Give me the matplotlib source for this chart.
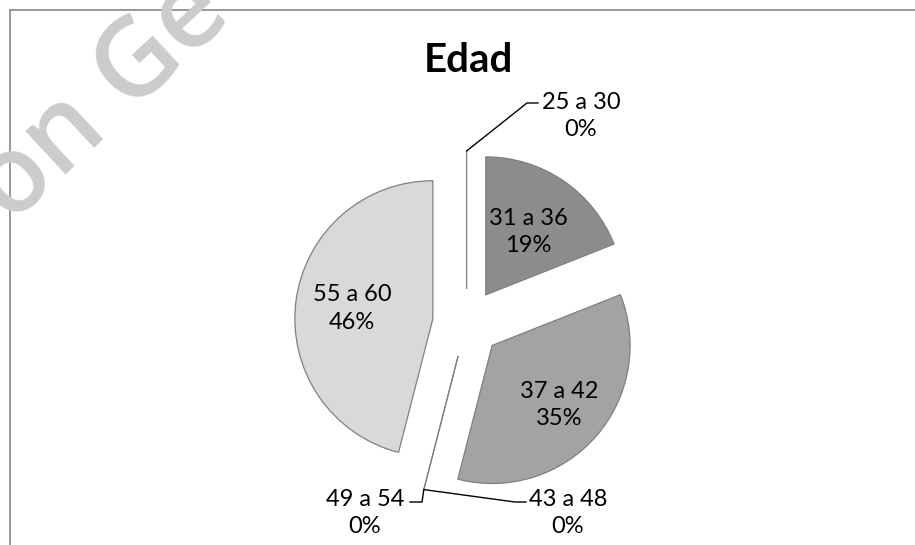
import numpy as np
import matplotlib
matplotlib.use("Agg")
import matplotlib.pyplot as plt
from matplotlib.lines import Line2D

# Age distribution (percent of respondents)
categories = ["25 a 30", "31 a 36", "37 a 42", "43 a 48", "49 a 54", "55 a 60"]
values = [0, 19, 35, 0, 0, 46]
colors = ["#8c8c8c", "#8c8c8c", "#a3a3a3", "#bfbfbf", "#bfbfbf", "#d9d9d9"]
title = "Edad"

W, H = 915, 545
FONT = ["Lato", "DejaVu Sans"]
LABEL_SIZE = 17

fig = plt.figure(figsize=(W / 100, H / 100), dpi=100)
ax = fig.add_axes([0, 0, 1, 1])

def py(y):
    # top-down pixel row -> data y
    return H - y

center = (466.6, py(323))
radius = 138
explode = 34

wedges, _ = ax.pie(values, colors=colors, startangle=90, counterclock=False,
                   radius=radius, center=center, explode=[explode] * len(values),
                   wedgeprops=dict(edgecolor="#808080", linewidth=0.9))
ax.set_xlim(0, W)
ax.set_ylim(0, H)
ax.set_aspect("equal")
ax.axis("off")

# chart frame (left and top edges)
ax.add_line(Line2D([9.5, 9.5], [0, py(10)], color="#888888", lw=1.2))
ax.add_line(Line2D([9.5, W], [py(10), py(10)], color="#888888", lw=1.2))

ax.text(center[0] + 2, py(61), title, ha="center", va="center",
        fontsize=29, fontweight="bold", family=FONT, color="black")

# label placement: radial fraction for inside labels
inside_frac = {1: 0.55, 2: 0.65, 5: 0.59}
# outside labels: text centre and leader path (elbow, end) in pixel rows
outside = {
    0: dict(text=(581, 116), path=[(527, 103), (538, 103)]),
    3: dict(text=(568, 513), path=[(515, 502), (526, 502)]),
    4: dict(text=(365, 513), path=[(422, 502), (410, 502)]),
}

fracs = np.array(values, float) / sum(values)
theta = 90.0
for i, (cat, v) in enumerate(zip(categories, values)):
    t1 = theta
    theta -= 360 * fracs[i]
    tm = np.deg2rad((t1 + theta) / 2)
    d = np.array([np.cos(tm), np.sin(tm)])
    lab = f"{cat}\n{v}%"
    if i in inside_frac:
        p = np.array(center) + d * (explode + inside_frac[i] * radius)
        ax.text(p[0], p[1], lab, ha="center", va="center", fontsize=LABEL_SIZE,
                family=FONT, linespacing=1.38, color="black")
    else:
        o = outside[i]
        tip = np.array(center) + d * (explode + radius)
        xs = [tip[0]] + [q[0] for q in o["path"]]
        ys = [tip[1]] + [py(q[1]) for q in o["path"]]
        ax.add_line(Line2D(xs, ys, color="black", lw=1.0))
        ax.text(o["text"][0], py(o["text"][1]), lab, ha="center", va="center",
                fontsize=LABEL_SIZE, family=FONT, linespacing=1.38, color="black")

# faint diagonal watermark
fig.text(-0.05, 0.6, "on Ge", rotation=43, fontsize=78, color="#cccccc",
         family=["Open Sans", "DejaVu Sans"], fontweight="semibold",
         ha="left", va="baseline", zorder=10)

fig.savefig("out.png", dpi=100)
